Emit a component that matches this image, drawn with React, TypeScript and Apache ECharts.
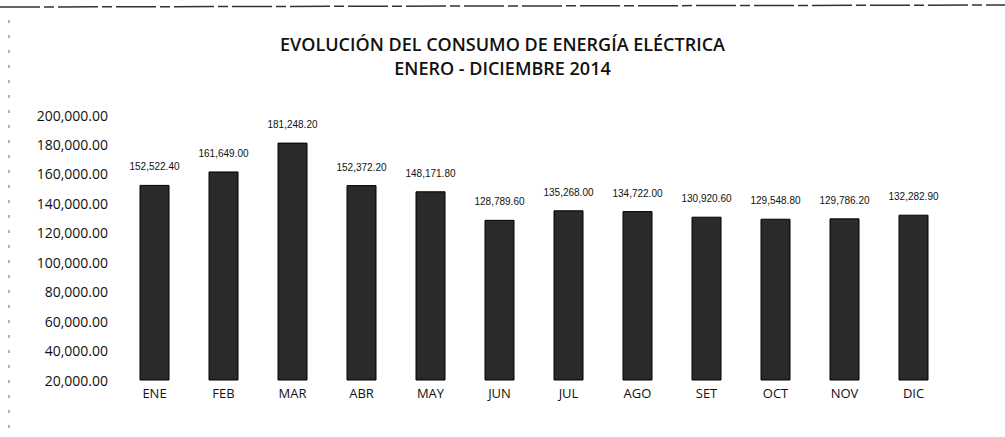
import React, { useEffect, useRef } from "react";
import * as echarts from "echarts";

const months = ["ENE", "FEB", "MAR", "ABR", "MAY", "JUN", "JUL", "AGO", "SET", "OCT", "NOV", "DIC"];
const consumo = [152522.4, 161649.0, 181248.2, 152372.2, 148171.8, 128789.6, 135268.0, 134722.0, 130920.6, 129548.8, 129786.2, 132282.9];
const titleLine1 = "EVOLUCIÓN DEL CONSUMO DE ENERGÍA ELÉCTRICA";
const titleLine2 = "ENERO - DICIEMBRE 2014";

const fmt = (v: number) =>
  v.toLocaleString("en-US", { minimumFractionDigits: 2, maximumFractionDigits: 2 });

export default function App() {
  const ref = useRef<HTMLDivElement>(null);
  useEffect(() => {
    document.body.style.margin = "0";
    const chart = echarts.init(ref.current!, null, { renderer: "svg" });
    chart.setOption({
      animation: false,
      backgroundColor: "#ffffff",
      title: {
        text: titleLine1 + "\n" + titleLine2,
        left: "center",
        top: 27,
        textStyle: {
          fontFamily: "Open Sans",
          fontSize: 18,
          fontWeight: 600,
          color: "#111",
          lineHeight: 24,
        },
      },
      grid: { left: 120, right: 57, top: 115, bottom: 57 },
      xAxis: {
        type: "category",
        data: months,
        axisLine: { show: false },
        axisTick: { show: false },
        axisLabel: { fontFamily: "Open Sans", fontSize: 13, color: "#111", margin: 6 },
      },
      yAxis: {
        type: "value",
        min: 20000,
        max: 200000,
        interval: 20000,
        splitLine: { show: false },
        axisLine: { show: false },
        axisTick: { show: false },
        axisLabel: {
          fontFamily: "Open Sans",
          fontSize: 14,
          color: "#111",
          margin: 12,
          formatter: (v: number) => fmt(v),
        },
      },
      series: [
        {
          type: "bar",
          data: consumo,
          barWidth: 30,
          itemStyle: { color: "#2a2a2a", borderColor: "#000", borderWidth: 1 },
          label: {
            show: true,
            position: "top",
            distance: 13,
            fontFamily: "Liberation Sans",
            fontSize: 10,
            color: "#111",
            formatter: (p: any) => fmt(p.value),
          },
        },
      ],
      graphic: [
        { type: "line", shape: { x1: 0, y1: 7, x2: 1005, y2: 5 }, style: { stroke: "#333", lineWidth: 1.5, lineDash: [40, 4, 10, 4] } },
        { type: "line", shape: { x1: 9, y1: 20, x2: 9, y2: 437 }, style: { stroke: "#666", lineWidth: 1, lineDash: [3, 12] } },
      ],
    });
    return () => chart.dispose();
  }, []);
  return <div ref={ref} style={{ position: "fixed", left: 0, top: 0, width: 1005, height: 437 }} />;
}
